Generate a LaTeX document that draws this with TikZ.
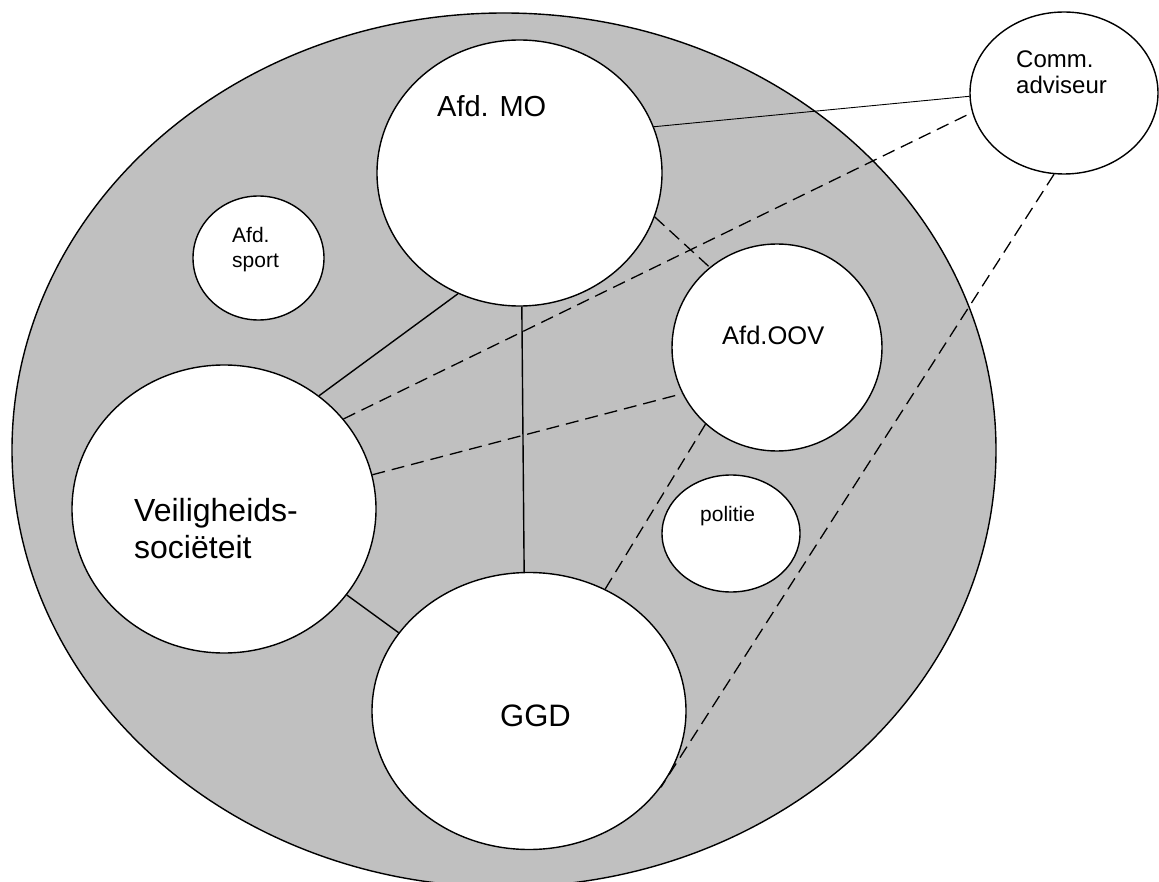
\documentclass[tikz,border=0pt]{standalone}
\usepackage{fontspec}
\setmainfont{Liberation Sans}
\usetikzlibrary{shapes.geometric}
\definecolor{shade}{HTML}{C0C0C0}
\begin{document}
\begin{tikzpicture}[x=1pt,y=-1pt,
  ell/.style={ellipse, draw, fill=white, line width=1.4pt, inner sep=0pt},
  solidlink/.style={line width=1.4pt},
  thinlink/.style={line width=0.9pt},
  dashlink/.style={line width=1.3pt, dash pattern=on 13pt off 7pt},
  lbl/.style={anchor=base west, inner sep=0pt}]
\useasboundingbox (0,0) rectangle (1159,882);
\clip (0,0) rectangle (1159,882);
% outer region
\node[ellipse, draw, fill=shade, line width=1.4pt, inner sep=0pt,
      minimum width=984pt, minimum height=874pt] (big) at (504,450) {};
% inner ellipses
\node[ell, minimum width=285pt, minimum height=266pt] (mo) at (519.5,173) {};
\node[ell, minimum width=131pt, minimum height=124pt] (sport) at (258.5,258) {};
\node[ell, minimum width=210pt, minimum height=207pt] (oov) at (777,347.5) {};
\node[ell, minimum width=304pt, minimum height=288pt] (veil) at (224,509) {};
\node[ell, minimum width=138pt, minimum height=117pt] (pol) at (731,533.5) {};
\node[ell, minimum width=314pt, minimum height=277pt] (ggd) at (529,711) {};
\node[ell, minimum width=188pt, minimum height=162pt] (comm) at (1064,93) {};
% labels
\node[lbl, font=\fontsize{29}{34}\selectfont] (tmo) at (437,117) {Afd. MO};
\node[lbl, font=\fontsize{21}{25}\selectfont] (tsport1) at (232,243) {Afd.};
\node[lbl, font=\fontsize{21}{25}\selectfont] (tsport2) at (232,268) {sport};
\node[lbl, font=\fontsize{24}{28}\selectfont] (tcomm1) at (1016,68) {Comm.};
\node[lbl, font=\fontsize{24}{28}\selectfont] (tcomm2) at (1016,94) {adviseur};
\node[lbl, font=\fontsize{32}{37}\selectfont] (tveil1) at (134,521) {Veiligheids-};
\node[lbl, font=\fontsize{32}{37}\selectfont] (tveil2) at (134,558) {sociëteit};
\node[lbl, font=\fontsize{31}{36}\selectfont] (tggd) at (500,726) {GGD};
\node[lbl, font=\fontsize{25.5}{30}\selectfont] (toov) at (722,345) {Afd.OOV};
\node[lbl, font=\fontsize{21}{25}\selectfont] (tpol) at (700,521) {politie};
% solid connectors
\draw[solidlink] (mo.243.6) -- (veil.50);
\draw[solidlink] (mo.271.1) -- (ggd.92.9);
\draw[solidlink] (veil.325.7) -- (ggd.149.6);
\draw[thinlink] (mo.19.2) -- (comm.182.4);
% dashed connectors
\draw[dashlink] (veil.37.6) -- (comm.192.1);
\draw[dashlink] (veil.13.9) -- (oov.206.8);
\draw[dashlink] (mo.342.8) -- (oov.130.3);
\draw[dashlink] (oov.227.1) -- (ggd.58.5);
\draw[dashlink] (comm.263.7) -- (ggd.330.9);
\end{tikzpicture}
\end{document}
